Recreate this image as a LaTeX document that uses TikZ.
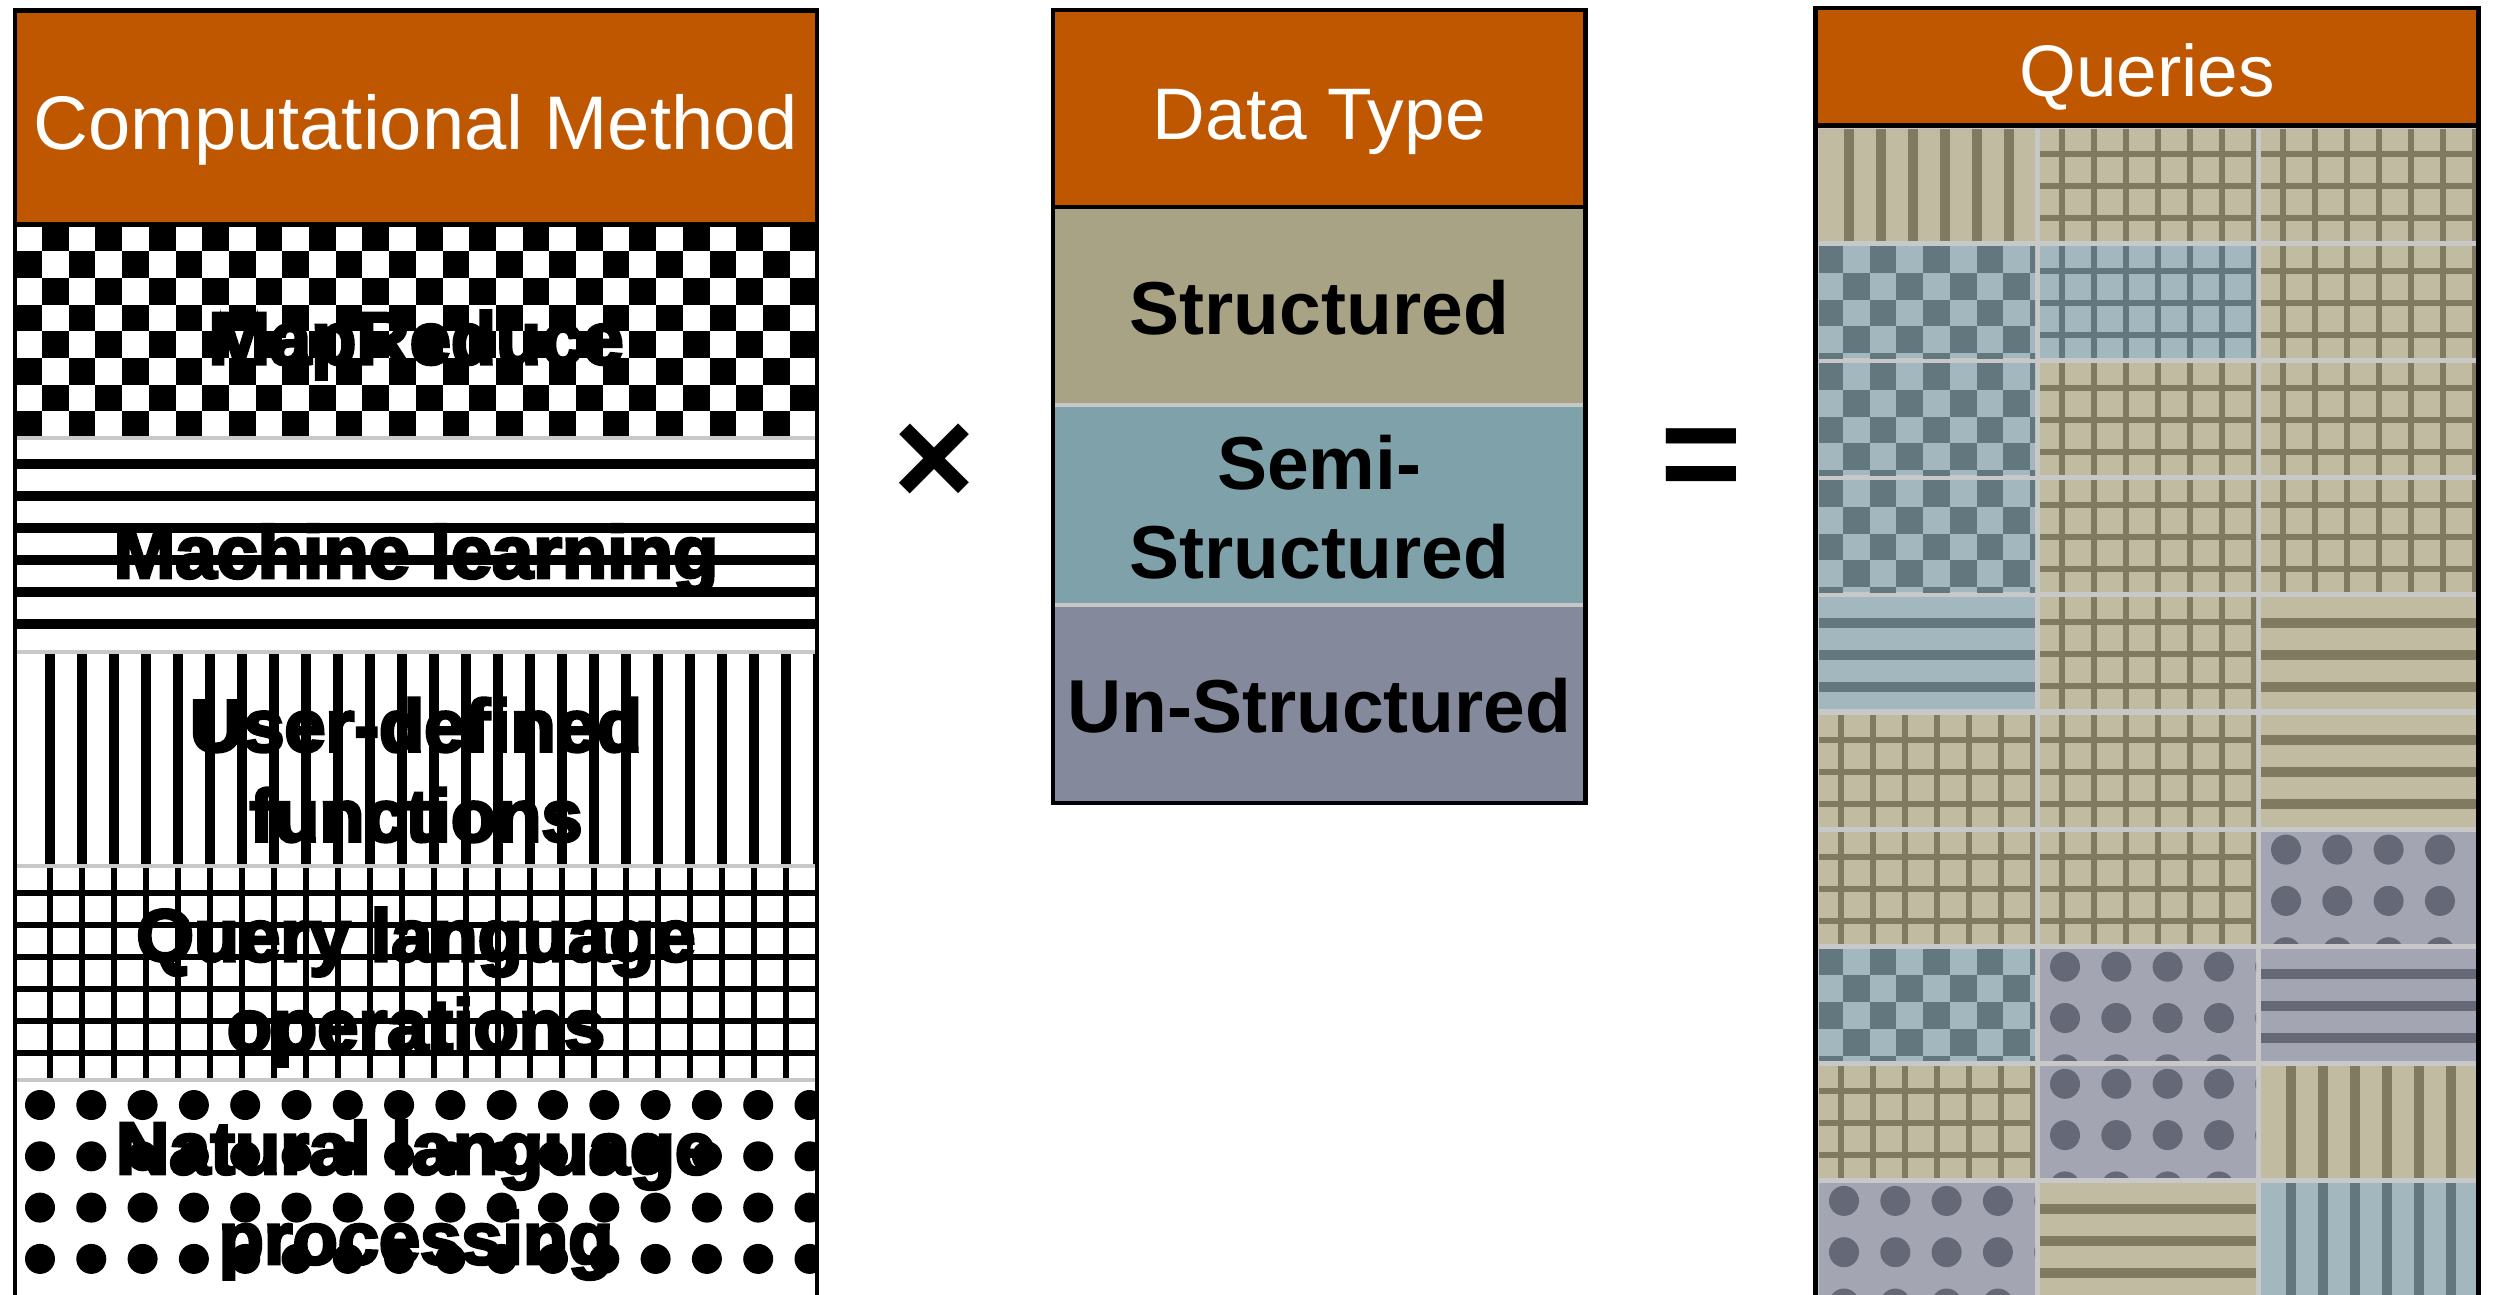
\documentclass[tikz,border=0pt]{standalone}
\usepackage{fontspec}
\setmainfont{Liberation Sans}
\newfontfamily\heavyfont[FakeBold=4]{Liberation Sans Bold}

\definecolor{burnt}{HTML}{BF5700}
\definecolor{sepgray}{HTML}{C8C8C8}
\definecolor{structbg}{HTML}{A8A384}
\definecolor{semibg}{HTML}{7FA1AA}
\definecolor{unbg}{HTML}{85899C}
\definecolor{khlight}{HTML}{C1BBA1}
\definecolor{khdark}{HTML}{807B60}
\definecolor{bllight}{HTML}{A2B7BE}
\definecolor{bldark}{HTML}{62787E}
\definecolor{pulight}{HTML}{A4A5B2}
\definecolor{pudark}{HTML}{656876}

% Pattern painters. Arguments: #1 x0, #2 y0, #3 width, #4 height,
% #5 ink colour, #6 x phase, #7 y phase (relative to the corner).
\newcommand\paintV[7]{%
  \begin{scope}
    \clip (#1,#2) rectangle ++(#3,#4);
    \foreach \k in {0,...,25}{\fill[#5] ({#1+(#6)+32*\k-5},#2) rectangle ++(10,#4);}
  \end{scope}}
\newcommand\paintH[7]{%
  \begin{scope}
    \clip (#1,#2) rectangle ++(#3,#4);
    \foreach \k in {0,...,7}{\fill[#5] (#1,{#2+(#7)+32*\k-5}) rectangle ++(#3,10);}
  \end{scope}}
\newcommand\paintGrid[7]{%
  \begin{scope}
    \clip (#1,#2) rectangle ++(#3,#4);
    \foreach \k in {0,...,25}{\fill[#5] ({#1+(#6)+32*\k-3},#2) rectangle ++(6,#4);}
    \foreach \k in {0,...,7}{\fill[#5] (#1,{#2+(#7)+32*\k-3}) rectangle ++(#3,6);}
  \end{scope}}
\newcommand\paintDots[7]{%
  \begin{scope}
    \clip (#1,#2) rectangle ++(#3,#4);
    \foreach \i in {0,...,16}{\foreach \j in {0,...,4}{%
      \fill[#5] ({#1+(#6)+51.3*\i},{#2+(#7)+51.3*\j}) circle[radius=15pt];}}
  \end{scope}}
\newcommand\paintCheck[7]{%
  \begin{scope}
    \clip (#1,#2) rectangle ++(#3,#4);
    \foreach \i in {0,...,31}{\foreach \j in {0,...,8}{%
      \pgfmathtruncatemacro\chk{mod(\i+\j,2)}%
      \ifnum\chk=0 \fill[#5] ({#1+(#6)+26.7*\i},{#2+(#7)+26.7*\j}) rectangle ++(26.7,26.7);\fi}}
  \end{scope}}

% One cell of the query grid: #1 column, #2 row, #3 pattern (V,H,G,D,C), #4 colour family
\newcommand\qcell[4]{%
  \pgfmathsetmacro\qx{1819+221*(#1-1)}%
  \pgfmathsetmacro\qy{129+117.1*(#2-1)}%
  \fill[#4light] (\qx,\qy) rectangle ++(216,112);%
  \csname qpat#3\endcsname{#4dark}}
\newcommand\qpatV[1]{\paintV{\qx}{\qy}{216}{112}{#1}{30}{0}}
\newcommand\qpatH[1]{\paintH{\qx}{\qy}{216}{112}{#1}{0}{25.6}}
\newcommand\qpatG[1]{\paintGrid{\qx}{\qy}{216}{112}{#1}{22}{25}}
\newcommand\qpatD[1]{\paintDots{\qx}{\qy}{216}{112}{#1}{25}{18}}
\newcommand\qpatC[1]{\paintCheck{\qx}{\qy}{216}{112}{#1}{-2.7}{0}}

\tikzset{
  panelline/.style={draw=black, line width=4.5pt},
  seprule/.style={draw=sepgray, line width=4pt},
  hdrbox/.style={rectangle, fill=burnt, draw=black, line width=4.5pt, inner sep=0pt, outer sep=0pt},
  hdrtext/.style={text=white, font=\fontsize{73}{88}\selectfont, inner sep=0pt, anchor=base},
  rowlabel/.style={font=\heavyfont\fontsize{74}{90}\selectfont, align=center, inner sep=0pt},
  typelabel/.style={font=\bfseries\fontsize{75}{89}\selectfont, align=center, inner sep=0pt},
  opsign/.style={font=\bfseries\fontsize{140}{140}\selectfont, inner sep=0pt},
}

\begin{document}
\begin{tikzpicture}[x=1pt, y=-1pt]
\useasboundingbox (0,0) rectangle (2493,1294);
\fill[white] (0,0) rectangle (2493,1294);

% ---------- computational methods
\paintCheck{15}{224.5}{802}{213.8}{black}{-26.4}{0}
\paintH{15}{438.3}{802}{213.8}{black}{0}{25.5}
\paintV{15}{652.1}{802}{213.8}{black}{35}{0}
\paintGrid{15}{865.9}{802}{213.8}{black}{35}{27}
\paintDots{15}{1079.7}{802}{230}{black}{25}{25.3}
\foreach \yy in {438.3,652.1,865.9,1079.7} \draw[seprule] (17,\yy) -- (815,\yy);
\draw[panelline] (15,10.5) -- (15,1300);
\draw[panelline] (817,10.5) -- (817,1300);
\node[hdrbox, minimum width=802pt, minimum height=214pt] (cmhead) at (416,117.5) {};
\node[hdrtext, font=\fontsize{76}{90}\selectfont] (cmtitle) at (416,149) {Computational Method};

\node[rowlabel] (mapreduce) at (416,345) {MapReduce};
\node[rowlabel] (mlearn) at (416,559) {Machine learning};
\node[rowlabel] (udf) at (416,770) {User-defined\\functions};
\node[rowlabel] (qlang) at (416,987) {Query language\\operations};
\node[rowlabel] (nlp) at (416,1200) {Natural language\\processing};

% ---------- data types
\fill[structbg] (1053,207) rectangle (1585.5,405);
\fill[semibg] (1053,405) rectangle (1585.5,605);
\fill[unbg] (1053,605) rectangle (1585.5,803);
\draw[seprule] (1055,405) -- (1583.5,405);
\draw[seprule] (1055,605) -- (1583.5,605);
\draw[panelline] (1053,10) rectangle (1585.5,803);
\node[hdrbox, minimum width=532.5pt, minimum height=197pt] (dthead) at (1319.25,108.5) {};
\node[hdrtext] (dttitle) at (1319.25,139) {Data Type};
\node[typelabel] (structured) at (1319.25,308) {Structured};
\node[typelabel] (semistructured) at (1319.25,507.5) {Semi-\\Structured};
\node[typelabel] (unstructured) at (1319.25,706) {Un-Structured};

% ---------- operators
\node[opsign] (times) at (934.5,465) {×};
\node[opsign] (equals) at (1701.5,465) {=};

% ---------- queries
\fill[sepgray] (1815.5,125) rectangle (2478.5,1300);
\qcell{1}{1}{V}{kh} \qcell{2}{1}{G}{kh} \qcell{3}{1}{G}{kh}
\qcell{1}{2}{C}{bl} \qcell{2}{2}{G}{bl} \qcell{3}{2}{G}{kh}
\qcell{1}{3}{C}{bl} \qcell{2}{3}{G}{kh} \qcell{3}{3}{G}{kh}
\qcell{1}{4}{C}{bl} \qcell{2}{4}{G}{kh} \qcell{3}{4}{G}{kh}
\qcell{1}{5}{H}{bl} \qcell{2}{5}{G}{kh} \qcell{3}{5}{H}{kh}
\qcell{1}{6}{G}{kh} \qcell{2}{6}{G}{kh} \qcell{3}{6}{H}{kh}
\qcell{1}{7}{G}{kh} \qcell{2}{7}{G}{kh} \qcell{3}{7}{D}{pu}
\qcell{1}{8}{C}{bl} \qcell{2}{8}{D}{pu} \qcell{3}{8}{H}{pu}
\qcell{1}{9}{G}{kh} \qcell{2}{9}{D}{pu} \qcell{3}{9}{V}{kh}
\qcell{1}{10}{D}{pu} \qcell{2}{10}{H}{kh} \qcell{3}{10}{V}{bl}
\draw[panelline] (1815.5,8) -- (1815.5,1300);
\draw[panelline] (2478.5,8) -- (2478.5,1300);
\node[hdrbox, minimum width=663pt, minimum height=117.5pt] (qhead) at (2147,66.75) {};
\node[hdrtext] (qtitle) at (2147,96) {Queries};
\end{tikzpicture}
\end{document}
